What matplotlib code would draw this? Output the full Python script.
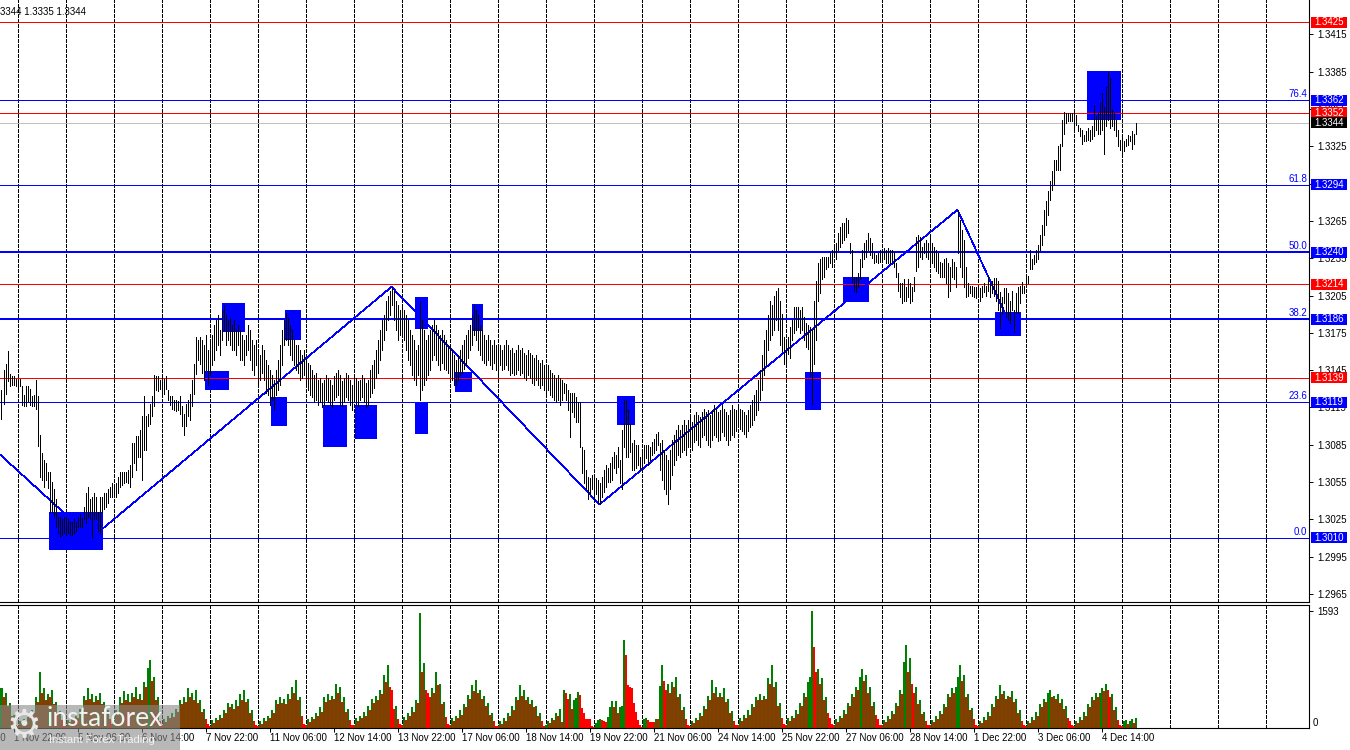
import numpy as np
import matplotlib
matplotlib.use('Agg')
import matplotlib.pyplot as plt
from matplotlib.patches import Rectangle
from matplotlib.transforms import blended_transform_factory

plt.rcParams['font.family'] = ['Liberation Sans', 'DejaVu Sans']

# ---- data -------------------------------------------------------------
BASE = 1.3000
PIP = 0.0001

# H1 bars, high / low in pips above 1.3000
high_pips = [
    129, 145, 150, 160, 142, 140, 140, 138, 137, 138,
    132, 125, 132, 132, 130, 124, 125, 137, 124, 93,
    78, 73, 70, 63, 63, 55, 49, 41, 27, 27,
    25, 27, 27, 25, 23, 23, 25, 23, 27, 29,
    26, 35, 46, 51, 41, 43, 46, 43, 31, 43,
    43, 46, 46, 49, 51, 54, 53, 54, 59, 63,
    63, 63, 63, 65, 69, 86, 86, 92, 92, 97,
    108, 124, 108, 110, 118, 124, 141, 140, 140, 137,
    140, 138, 140, 129, 124, 124, 121, 121, 120, 124,
    116, 110, 118, 121, 126, 137, 150, 172, 169, 172,
    169, 165, 173, 161, 169, 173, 181, 185, 189, 177,
    193, 197, 189, 185, 187, 181, 185, 177, 181, 177,
    173, 169, 173, 181, 177, 169, 165, 169, 161, 157,
    165, 161, 153, 149, 145, 141, 137, 145, 153, 165,
    177, 185, 191, 187, 181, 177, 169, 165, 165, 161,
    157, 161, 153, 151, 149, 145, 141, 143, 137, 139,
    135, 137, 141, 139, 137, 133, 140, 143, 145, 141,
    136, 139, 143, 141, 137, 133, 141, 139, 136, 137,
    141, 139, 135, 137, 145, 149, 153, 161, 169, 177,
    185, 189, 201, 205, 209, 212, 209, 201, 197, 193,
    197, 193, 189, 185, 177, 173, 169, 161, 165, 201,
    185, 177, 169, 173, 177, 181, 185, 181, 177, 173,
    177, 173, 169, 165, 165, 161, 157, 153, 157, 161,
    165, 169, 173, 177, 181, 189, 197, 193, 189, 181,
    177, 173, 169, 173, 169, 165, 169, 165, 163, 165,
    161, 165, 169, 165, 161, 163, 159, 161, 165, 161,
    163, 159, 157, 161, 159, 157, 155, 157, 153, 151,
    153, 149, 147, 149, 145, 143, 141, 139, 141, 139,
    137, 135, 134, 129, 127, 127, 127, 123, 119, 119,
    83, 81, 65, 59, 58, 61, 59, 58, 57, 54,
    59, 65, 69, 66, 70, 75, 79, 77, 83, 73,
    97, 121, 121, 113, 102, 86, 89, 85, 85, 75,
    81, 85, 85, 85, 83, 87, 90, 94, 95, 86,
    89, 81, 77, 73, 81, 89, 93, 97, 101, 97,
    101, 105, 101, 105, 107, 103, 109, 111, 109, 107,
    111, 114, 111, 113, 109, 113, 117, 114, 111, 113,
    117, 114, 111, 109, 113, 117, 114, 113, 117, 114,
    113, 111, 109, 113, 117, 121, 125, 129, 137, 145,
    157, 169, 177, 189, 201, 197, 205, 209, 211, 201,
    190, 172, 170, 172, 180, 185, 196, 196, 196, 193,
    196, 188, 183, 181, 180, 177, 201, 217, 231, 234,
    236, 236, 236, 236, 239, 242, 244, 247, 255, 260,
    263, 263, 267, 266, 247, 242, 220, 220, 223, 234,
    242, 247, 250, 255, 251, 247, 239, 238, 239, 242,
    242, 243, 242, 243, 242, 242, 239, 231, 223, 215,
    215, 218, 212, 218, 215, 212, 220, 252, 254, 252,
    244, 247, 250, 247, 252, 247, 244, 242, 239, 232,
    231, 234, 235, 231, 228, 234, 232, 228, 274, 266,
    258, 250, 228, 215, 213, 213, 212, 212, 213, 211,
    213, 215, 213, 221, 215, 217, 219, 219, 217, 208,
    204, 211, 211, 207, 201, 209, 193, 207, 212, 213,
    216, 213, 221, 221, 242, 234, 238, 242, 246, 254,
    262, 274, 281, 289, 297, 305, 314, 314, 325, 327,
    346, 353, 352, 352, 352, 352, 352, 350, 342, 340,
    338, 334, 337, 340, 338, 341, 358, 349, 352, 361,
    368, 357, 373, 385, 380, 354, 352, 346, 338, 330,
    333, 329, 331, 334, 333, 337, 335, 344,
]
low_pips = [
    106, 118, 126, 136, 132, 133, 133, 132, 130, 132,
    117, 116, 116, 120, 117, 116, 116, 114, 84, 59,
    57, 51, 57, 50, 31, 31, 27, 19, 14, 11,
    12, 14, 12, 14, 12, 12, 14, 16, 19, 19,
    19, 25, 22, 27, 25, 10, 25, 25, 16, 14,
    31, 33, 35, 38, 43, 43, 45, 43, 46, 51,
    53, 54, 55, 54, 51, 59, 70, 65, 75, 75,
    57, 81, 81, 100, 102, 108, 116, 129, 128, 130,
    126, 126, 130, 121, 117, 114, 113, 112, 113, 110,
    100, 93, 100, 108, 105, 116, 126, 142, 153, 150,
    143, 137, 145, 133, 141, 149, 153, 161, 165, 157,
    169, 177, 165, 169, 165, 161, 161, 157, 165, 153,
    153, 149, 157, 161, 153, 145, 141, 149, 133, 137,
    143, 137, 127, 125, 117, 121, 113, 125, 129, 133,
    149, 165, 169, 165, 157, 153, 149, 145, 143, 137,
    139, 141, 133, 129, 125, 123, 119, 121, 117, 119,
    115, 117, 121, 119, 117, 115, 121, 123, 125, 117,
    116, 119, 123, 121, 117, 113, 121, 118, 116, 121,
    123, 119, 115, 117, 123, 127, 131, 139, 143, 153,
    161, 169, 177, 185, 189, 197, 185, 177, 169, 173,
    173, 169, 161, 153, 149, 141, 137, 133, 141, 121,
    129, 133, 137, 141, 145, 153, 157, 153, 149, 145,
    151, 146, 145, 143, 141, 137, 133, 133, 137, 141,
    143, 146, 149, 155, 161, 165, 173, 169, 161, 157,
    153, 151, 149, 153, 149, 146, 151, 145, 143, 149,
    145, 146, 149, 145, 141, 143, 141, 142, 145, 141,
    143, 139, 137, 141, 139, 135, 133, 137, 133, 131,
    133, 129, 127, 129, 125, 123, 121, 119, 121, 117,
    121, 127, 121, 113, 91, 111, 107, 103, 103, 83,
    62, 54, 49, 41, 45, 49, 41, 45, 38, 37,
    43, 47, 51, 55, 55, 57, 66, 62, 67, 54,
    49, 83, 75, 75, 79, 65, 65, 66, 69, 65,
    66, 70, 74, 69, 73, 77, 78, 81, 85, 65,
    57, 49, 45, 37, 49, 61, 69, 73, 77, 75,
    79, 81, 77, 83, 85, 81, 87, 89, 85, 83,
    91, 93, 89, 85, 83, 89, 93, 91, 88, 89,
    95, 92, 89, 85, 89, 93, 91, 96, 99, 98,
    96, 94, 91, 96, 99, 101, 105, 109, 113, 121,
    129, 141, 149, 161, 169, 173, 177, 185, 177, 165,
    160, 150, 148, 158, 155, 169, 175, 177, 180, 175,
    177, 169, 164, 162, 140, 118, 150, 169, 201, 207,
    218, 220, 226, 228, 231, 228, 236, 234, 242, 244,
    247, 250, 252, 255, 239, 215, 209, 208, 212, 218,
    228, 234, 236, 242, 238, 235, 231, 232, 231, 232,
    234, 234, 231, 231, 231, 232, 228, 220, 209, 204,
    199, 201, 201, 204, 199, 201, 209, 225, 228, 236,
    234, 239, 236, 234, 228, 231, 228, 225, 223, 220,
    220, 220, 215, 204, 209, 220, 218, 212, 239, 228,
    220, 212, 204, 205, 207, 205, 204, 203, 207, 201,
    204, 208, 205, 209, 204, 207, 205, 201, 193, 179,
    191, 199, 188, 185, 183, 193, 176, 191, 191, 199,
    207, 207, 212, 215, 226, 226, 230, 232, 234, 242,
    246, 254, 262, 270, 282, 290, 294, 306, 306, 306,
    325, 335, 344, 345, 345, 345, 338, 342, 337, 333,
    327, 329, 329, 330, 329, 331, 333, 338, 335, 335,
    338, 319, 341, 346, 340, 341, 338, 333, 325, 322,
    319, 321, 325, 326, 329, 323, 327, 335,
]

# tick volume per H1 bar (Fri tail, then one row of 24 per trading day)
volume = [
    540, 420, 480, 300, 340, 160, 180, 40,
    30, 90, 70, 120, 100, 150, 130, 240, 200, 420, 350, 760, 480, 540, 380, 460, 420, 520, 330, 360, 200, 230, 110, 40,
    30, 110, 80, 130, 120, 160, 140, 260, 220, 440, 380, 540, 400, 460, 360, 440, 380, 480, 320, 350, 220, 250, 120, 50,
    60, 240, 180, 420, 340, 500, 380, 460, 360, 480, 420, 560, 400, 460, 380, 620, 560, 820, 925, 640, 700, 380, 420, 90,
    40, 120, 80, 160, 130, 200, 150, 260, 220, 380, 320, 420, 360, 540, 420, 480, 380, 520, 340, 380, 220, 260, 120, 50,
    30, 110, 70, 140, 110, 180, 140, 240, 200, 340, 280, 320, 260, 380, 300, 460, 380, 517, 360, 400, 200, 240, 100, 40,
    30, 90, 60, 130, 100, 170, 140, 250, 200, 380, 320, 420, 340, 400, 320, 460, 400, 560, 480, 650, 380, 420, 160, 50,
    40, 120, 80, 150, 120, 200, 160, 280, 220, 420, 360, 460, 380, 440, 400, 600, 480, 560, 360, 420, 220, 260, 110, 40,
    40, 130, 90, 170, 130, 220, 170, 300, 240, 400, 340, 440, 380, 520, 460, 720, 620, 857, 560, 520, 260, 300, 120, 50,
    40, 150, 110, 200, 160, 280, 220, 380, 340, 1560, 760, 880, 520, 480, 420, 540, 480, 760, 580, 600, 320, 360, 150, 50,
    40, 130, 90, 170, 130, 240, 180, 320, 280, 450, 400, 580, 500, 650, 480, 520, 400, 440, 300, 340, 180, 210, 90, 30,
    30, 90, 60, 140, 100, 210, 160, 300, 240, 420, 380, 585, 440, 520, 380, 420, 320, 380, 280, 300, 170, 200, 90, 30,
    40, 100, 70, 140, 110, 200, 160, 260, 86, 517, 480, 390, 462, 254, 381, 412, 494, 449, 268, 200, 118, 118, 118, 27,
    18, 72, 109, 122, 109, 95, 86, 145, 281, 372, 281, 372, 209, 281, 299, 1197, 993, 585, 562, 540, 336, 222, 109, 36,
    20, 118, 131, 109, 86, 86, 86, 118, 118, 571, 857, 640, 520, 600, 480, 620, 560, 700, 420, 460, 240, 280, 120, 40,
    30, 100, 70, 140, 110, 210, 160, 300, 260, 440, 380, 653, 480, 560, 420, 480, 420, 540, 360, 400, 200, 230, 100, 40,
    40, 140, 100, 180, 140, 240, 180, 320, 280, 420, 380, 460, 380, 440, 400, 680, 600, 857, 560, 620, 300, 340, 140, 50,
    40, 130, 90, 170, 130, 240, 190, 340, 300, 480, 420, 620, 700, 1593, 1100, 760, 800, 600, 680, 380, 420, 200, 140, 50,
    40, 120, 80, 170, 130, 240, 190, 340, 300, 460, 420, 560, 520, 700, 800, 640, 720, 480, 560, 300, 360, 180, 120, 40,
    40, 110, 80, 160, 120, 230, 190, 340, 300, 520, 460, 900, 1130, 760, 950, 600, 480, 560, 330, 380, 190, 220, 100, 40,
    40, 110, 80, 160, 120, 230, 190, 320, 280, 460, 420, 540, 480, 560, 700, 857, 640, 720, 420, 460, 240, 270, 120, 40,
    30, 100, 70, 150, 110, 220, 170, 320, 280, 440, 400, 585, 460, 500, 400, 440, 420, 500, 360, 400, 200, 240, 100, 40,
    30, 100, 70, 150, 110, 220, 170, 320, 280, 400, 360, 480, 517, 420, 440, 400, 460, 340, 400, 260, 300, 130, 90, 40,
    30, 100, 70, 150, 110, 220, 170, 320, 280, 420, 380, 480, 420, 480, 540, 500, 600, 520, 420, 460, 240, 280, 110, 40,
    30, 90, 110, 60, 100, 120, 70, 140,
]
VOL_MAX = 1593

# time axis labels (bar index, text)
label_bars = [-26, 6, 38, 70, 102, 134, 166, 198, 230, 262, 294, 326, 358, 390, 422, 454, 486, 518, 550]
label_text = ['31 Oct 14:00', '1 Nov 22:00', '5 Nov 06:00', '6 Nov 14:00', '7 Nov 22:00',
              '11 Nov 06:00', '12 Nov 14:00', '13 Nov 22:00', '17 Nov 06:00', '18 Nov 14:00',
              '19 Nov 22:00', '21 Nov 06:00', '24 Nov 14:00', '25 Nov 22:00', '27 Nov 06:00',
              '28 Nov 14:00', '1 Dec 22:00', '3 Dec 06:00', '4 Dec 14:00']
first_day_bar = 8
bars_per_day = 24

# horizontal levels
levels = [1.3425, 1.3362, 1.3352, 1.3344, 1.3294, 1.3240, 1.3214, 1.3186, 1.3139, 1.3119, 1.3010]
tag_colors = ['#ff0000', '#0000ff', '#ff0000', '#000000', '#0000ff', '#0000ff',
              '#ff0000', '#0000ff', '#ff0000', '#0000ff', '#0000ff']
line_colors = ['#ff0000', '#0000ff', '#ff0000', '#c0c0c0', '#0000ff', '#0000ff',
               '#ff0000', '#0000ff', '#ff0000', '#0000ff', '#0000ff']
line_px = [1, 1, 1, 1, 1, 2, 1, 2, 1, 1, 1]
fib_levels = [1.3362, 1.3294, 1.3240, 1.3186, 1.3119, 1.3010]
fib_names = ['76.4', '61.8', '50.0', '38.2', '23.6', '0.0']

price_ticks = [1.2965, 1.2995, 1.3025, 1.3055, 1.3085, 1.3115, 1.3145, 1.3175,
               1.3205, 1.3235, 1.3265, 1.3295, 1.3325, 1.3355, 1.3385, 1.3415]

# zigzag swings
zigzag_bars = [-30, 45, 195, 299, 478, 506]
zigzag_prices = [1.3120, 1.3010, 1.3212, 1.3037, 1.3274, 1.3176]

# blue zones (bar from, bar to, low, high)
box_start = [23.75, 101.75, 110.25, 134.75, 141.75, 160.75, 176.75, 206.75, 206.75,
             226.75, 235.25, 307.75, 401.75, 420.75, 496.75, 542.75]
box_end = [50.75, 113.75, 121.75, 142.75, 149.75, 172.75, 187.75, 213.25, 213.25,
           235.25, 240.75, 316.75, 409.75, 433.75, 509.75, 559.75]
box_low = [1.30004, 1.3129, 1.3176, 1.3100, 1.3169, 1.3083, 1.3090, 1.3178, 1.3094,
           1.31275, 1.31765, 1.3101, 1.3113, 1.3200, 1.31725, 1.3346]
box_high = [1.3031, 1.3144, 1.3199, 1.3123, 1.3193, 1.3117, 1.3117, 1.3204, 1.3119,
            1.31435, 1.3198, 1.3124, 1.31435, 1.3220, 1.3192, 1.33856]

assert len(high_pips) == len(low_pips) == len(volume)

# ---- figure -----------------------------------------------------------
W, H = 1350, 750
XMIN, XMAX = -0.75, 653.75
fig = plt.figure(figsize=(W / 100, H / 100), dpi=100)
ax = fig.add_axes([0, 148 / H, 1309 / W, 602 / H])
axv = fig.add_axes([0, 22 / H, 1309 / W, 123 / H])

n = len(high_pips)
idx = np.arange(n)
hi = BASE + np.array(high_pips) * PIP
lo = BASE + np.array(low_pips) * PIP

for a in (ax, axv):
    a.spines['left'].set_visible(False)
    for s in a.spines.values():
        s.set_linewidth(0.8)
    for d in range(first_day_bar, 654, bars_per_day):
        a.axvline(d, color='black', lw=0.72, ls=(0, (3, 2)), antialiased=False, zorder=0.5)

ax.set_ylim(1.29585, 1.34427)
ax.spines['top'].set_visible(False)
ax.set_xticks([])
ax.yaxis.tick_right()
ax.set_yticks(price_ticks)
ax.set_yticklabels([f'{p:.4f}' for p in price_ticks])
ax.tick_params(axis='y', direction='out', length=3, width=0.7, labelsize=7, pad=3)

# zones, levels, zigzag, bars
for s, e, l, h in zip(box_start, box_end, box_low, box_high):
    ax.add_patch(Rectangle((s, l), e - s, h - l, facecolor='#0000ff', edgecolor='none', zorder=1))

for lvl, c, w in zip(levels, line_colors, line_px):
    ax.axhline(lvl, color=c, lw=0.72 * w, antialiased=False, zorder=2)

ax.plot(zigzag_bars, zigzag_prices, color='#0000ff', lw=0.5, antialiased=False, zorder=3)
ax.vlines(idx, lo, hi, color='black', lw=0.72, antialiased=False, zorder=4)

tr = blended_transform_factory(ax.transAxes, ax.transData)
tag_h = 11 * (1.34427 - 1.29585) / 602
for lvl, c in zip(levels, tag_colors):
    ax.add_patch(Rectangle((1311 / 1309, lvl - tag_h / 2), 36 / 1309, tag_h, transform=tr,
                           facecolor=c, edgecolor='none', clip_on=False, zorder=8))
    ax.text(1314 / 1309, lvl, f'{lvl:.4f}', transform=tr, color='white', fontsize=7,
            ha='left', va='center', clip_on=False, zorder=9)

for lvl, name in zip(fib_levels, fib_names):
    ax.text(1307 / 1309, lvl + 0.00008, name, transform=tr, color='#0000ff', fontsize=7,
            ha='right', va='bottom', zorder=9)

# volume panel
vol_colors = ['#008000'] + ['#008000' if volume[i] > volume[i - 1] else '#ff0000' for i in range(1, n)]
axv.bar(idx, volume, width=1.0, color=vol_colors, linewidth=0, antialiased=False, zorder=2)
axv.set_ylim(0, VOL_MAX * 123 / 117)
axv.yaxis.tick_right()
axv.set_yticks([VOL_MAX])
axv.set_yticklabels([str(VOL_MAX)])
axv.tick_params(axis='y', direction='out', length=3, width=0.7, labelsize=7, pad=3)
axv.text(1313 / 1309, 0, '0', transform=blended_transform_factory(axv.transAxes, axv.transData),
         fontsize=7, ha='left', va='bottom', clip_on=False)

axv.set_xticks(label_bars)
axv.tick_params(axis='x', direction='out', length=3, width=0.7, labelbottom=False)
trx = blended_transform_factory(axv.transData, axv.transAxes)
for b, t in zip(label_bars, label_text):
    axv.text(b, -0.085, t, transform=trx, fontsize=7, ha='left', va='center', clip_on=False)

# limits last, so the ticks do not widen them
ax.set_xlim(XMIN, XMAX)
axv.set_xlim(XMIN, XMAX)

# header and watermark
fig.text(-8 / W, 1 - 12 / H, '1.3344 1.3335 1.3344', fontsize=7, ha='left', va='center')
fig.patches.append(Rectangle((0, 0), 180 / W, 45 / H, transform=fig.transFigure,
                             facecolor='#8a8a8a', edgecolor='none', alpha=0.6, zorder=10))
fig.text(6 / W, 1 - 726 / H, '\u2699', family='DejaVu Sans', fontsize=28, color='#e8e8e8',
         ha='left', va='center', zorder=11)
fig.text(46 / W, 1 - 718 / H, 'instaforex', family='Lato', fontsize=19, color='#f2f2f2',
         ha='left', va='center', zorder=11)
fig.text(49 / W, 1 - 740 / H, 'Instant Forex Trading', fontsize=8, color='#f2f2f2',
         ha='left', va='center', zorder=11)

fig.savefig('out.png', dpi=100)
